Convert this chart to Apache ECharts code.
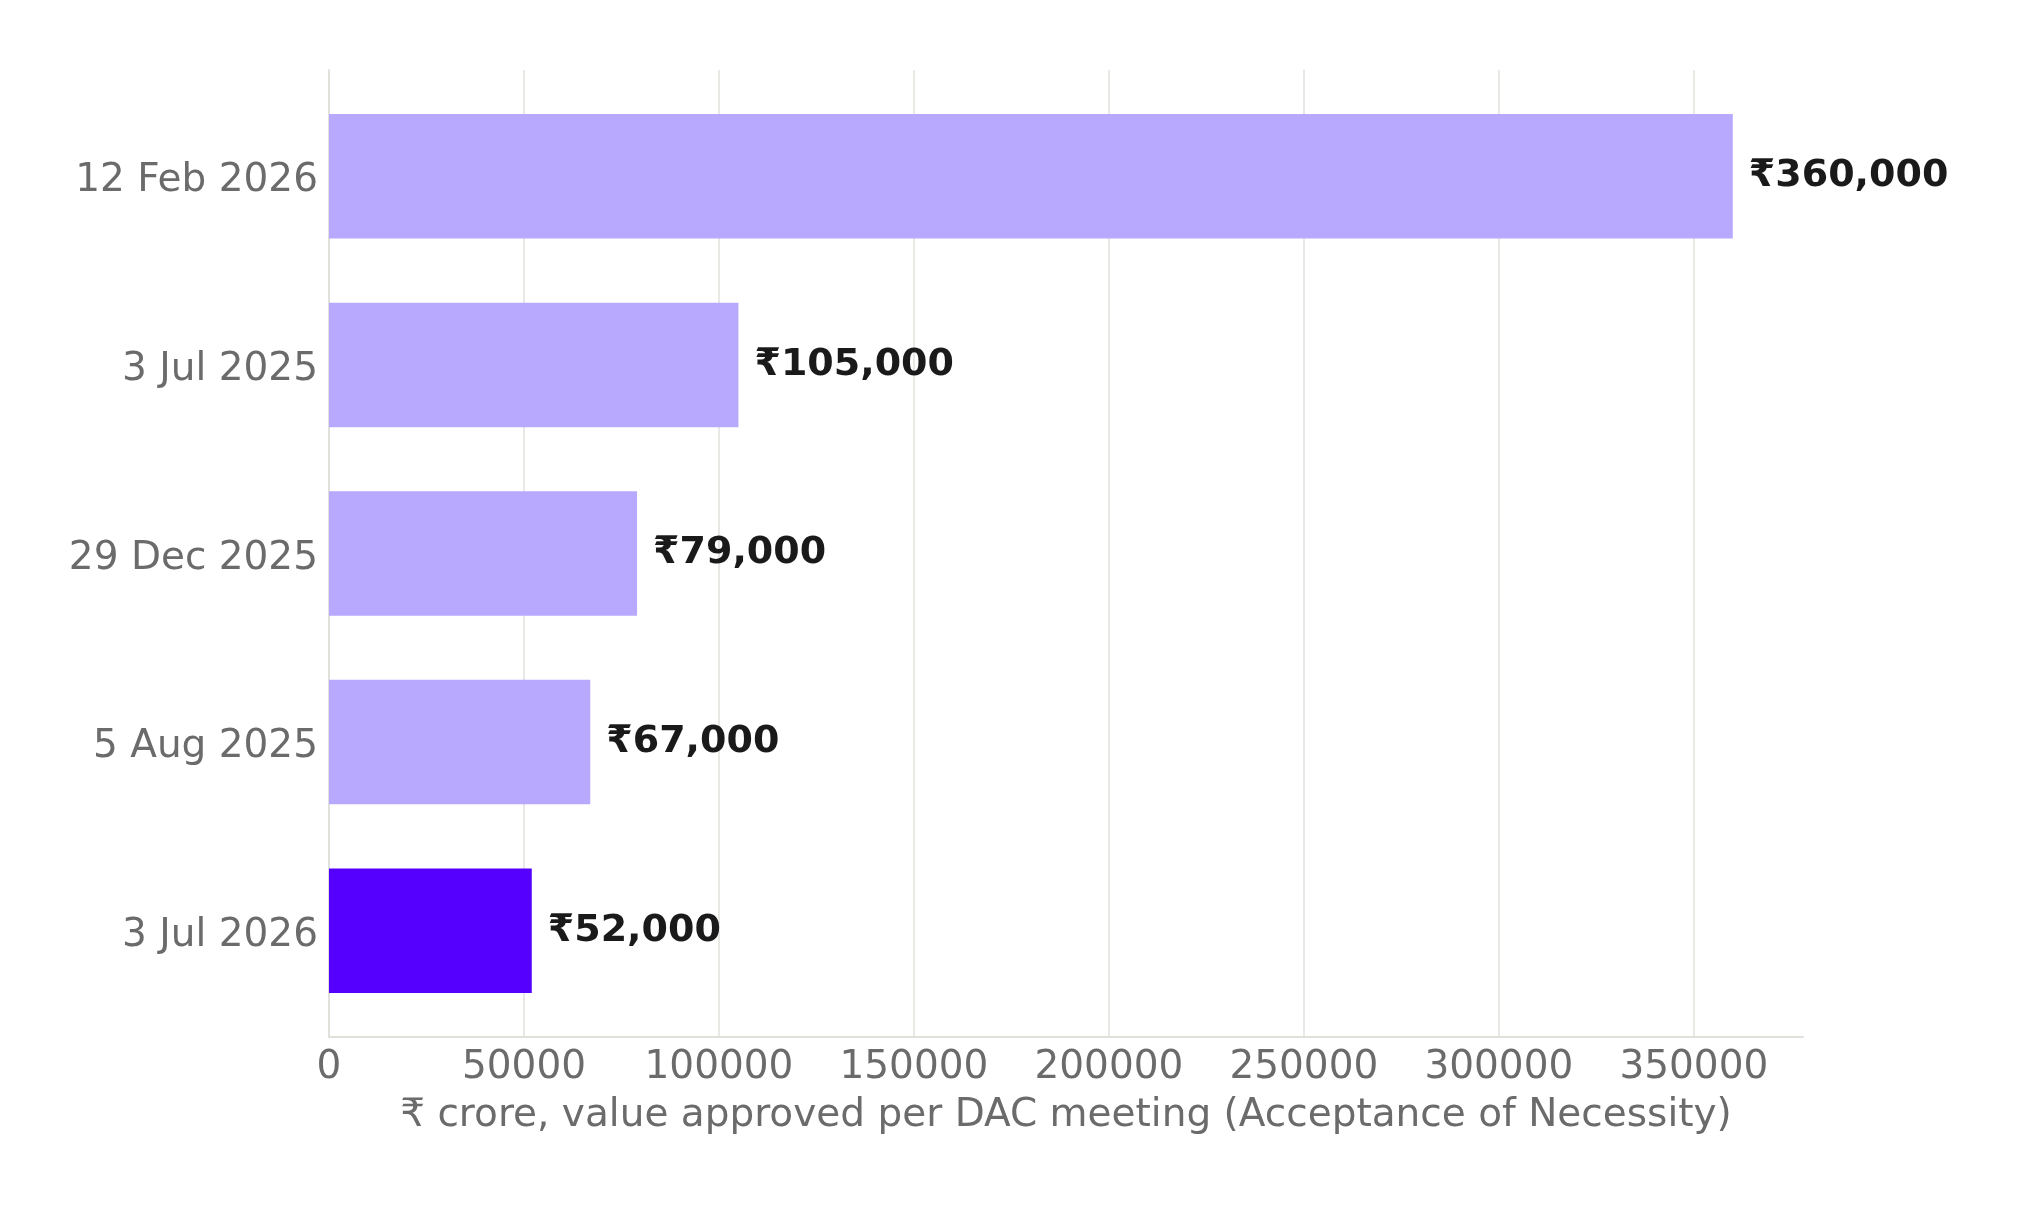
<!DOCTYPE html>
<html>
<head>
<meta charset="utf-8">
<script src="https://cdn.jsdelivr.net/npm/echarts@6/dist/echarts.min.js"></script>
<style>
  html, body { margin: 0; padding: 0; background: #fff; }
  #chart { width: 2022px; height: 1206px; }
</style>
</head>
<body>
<div id="chart"></div>
<script>
// top-to-bottom order, as in the picture
const meetings = ['12 Feb 2026', '3 Jul 2025', '29 Dec 2025', '5 Aug 2025', '3 Jul 2026']
const approved = [360000, 105000, 79000, 67000, 52000]
const highlight = '3 Jul 2026'
const xTicks = [0, 50000, 100000, 150000, 200000, 250000, 300000, 350000]

const FONT = 'DejaVu Sans'
const GREY = '#6b6b6b'
const LINE = '#e1e1dc'

const left = 329
const right = 2022 - 1803
const xMax = 378000

const chart = echarts.init(document.getElementById('chart'))

chart.setOption({
  animation: false,
  grid: [
    // frame: gridlines, spines, ticks
    { left: left, right: right, top: 70, bottom: 1206 - 1037 },
    // bars: matplotlib-style padding inside the frame
    { left: left, right: right, top: 82, bottom: 1206 - 1025 },
  ],
  xAxis: [
    {
      gridIndex: 0,
      type: 'value',
      min: 0,
      max: xMax,
      interval: 50000,
      name: '₹ crore, value approved per DAC meeting (Acceptance of Necessity)',
      nameLocation: 'middle',
      nameGap: 59,
      nameTextStyle: { color: GREY, fontFamily: FONT, fontSize: 39 },
      axisLine: { show: true, lineStyle: { color: LINE, width: 2 } },
      axisTick: { show: false },
      axisLabel: {
        color: GREY,
        fontFamily: FONT,
        fontSize: 39,
        margin: 11,
        showMaxLabel: false,
        formatter: (v) => xTicks.includes(v) ? String(v) : '',
      },
      splitLine: { show: true, showMaxLine: false, lineStyle: { color: LINE, width: 1.5 } },
    },
    {
      gridIndex: 1,
      type: 'value',
      min: 0,
      max: xMax,
      show: false,
    },
  ],
  yAxis: [
    {
      gridIndex: 0,
      type: 'value',
      axisLine: { show: true, lineStyle: { color: LINE, width: 2 } },
      axisTick: { show: false },
      axisLabel: { show: false },
      splitLine: { show: false },
    },
    {
      gridIndex: 1,
      type: 'category',
      data: meetings,
      inverse: true,
      axisLine: { show: false },
      axisTick: { show: false },
      axisLabel: {
        margin: 11,
        formatter: (v) => '{d|' + v + '}',
        rich: {
          d: {
            color: GREY,
            fontFamily: FONT,
            fontSize: 39,
            padding: [10, 0, 0, 0],
          },
        },
      },
    },
  ],
  series: [
    {
      type: 'bar',
      xAxisIndex: 1,
      yAxisIndex: 1,
      barWidth: '66%',
      data: approved.map((v, i) => ({
        value: v,
        itemStyle: { color: meetings[i] === highlight ? '#5500ff' : '#b8a9ff' },
      })),
      label: {
        show: true,
        position: 'right',
        distance: 16,
        color: '#1a1a1a',
        fontFamily: FONT,
        fontWeight: 'bold',
        fontSize: 38,
        formatter: (p) => '₹' + p.value.toLocaleString('en-US'),
      },
    },
  ],
})
</script>
</body>
</html>
